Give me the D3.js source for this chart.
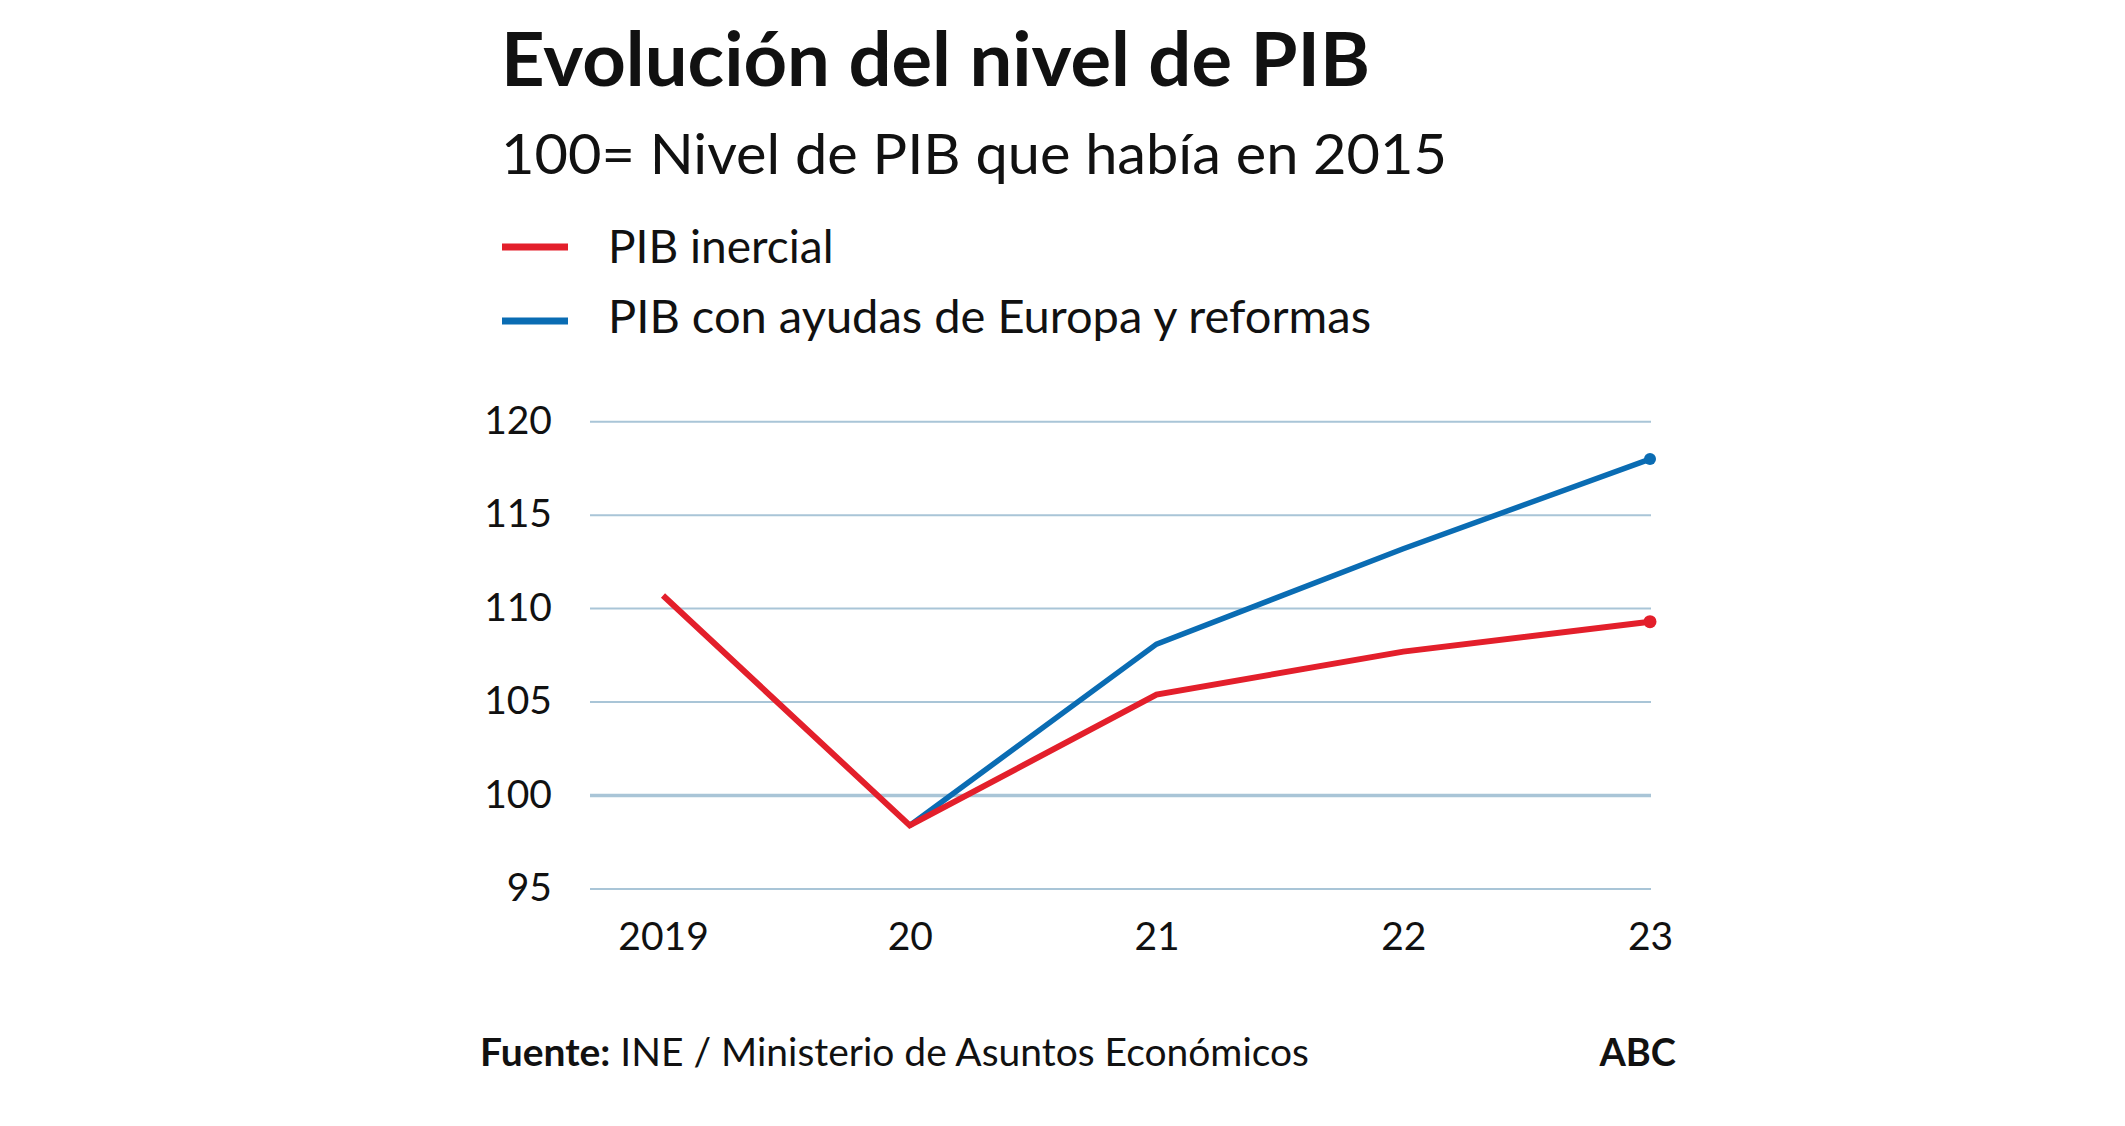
<!DOCTYPE html>
<html><head><meta charset="utf-8">
<script src="https://cdn.jsdelivr.net/npm/d3@7"></script>
<style>
html,body{margin:0;padding:0;background:#fff;}
svg{display:block;}
text{font-family:Lato,"Open Sans",sans-serif;fill:#111;}
</style></head>
<body>
<svg id="chart" width="2125" height="1126"></svg>
<script>
const years = ["2019","20","21","22","23"];
const inercial = [110.7, 98.4, 105.4, 107.7, 109.3];
const conAyudas = [null, 98.4, 108.1, 113.2, 118.0];
const yTicks = [95, 100, 105, 110, 115, 120];
const title = "Evolución del nivel de PIB";
const subtitle = "100= Nivel de PIB que había en 2015";
const legendLabels = ["PIB inercial", "PIB con ayudas de Europa y reformas"];
const sourceBold = "Fuente:";
const sourceText = " INE / Ministerio de Asuntos Económicos";
const brand = "ABC";

const RED = "#e31f2b", BLUE = "#0a6cb3", GRID = "#a9c5d7";
const svg = d3.select("#chart");

function fit(sel, w){
  const n = sel.node();
  const L = n.getComputedTextLength();
  if (Math.abs(L - w) > 2) sel.attr("textLength", w).attr("lengthAdjust","spacingAndGlyphs");
}

// Titles
fit(svg.append("text").attr("x",501).attr("y",86).attr("font-size",74).attr("font-weight",700).text(title), 869);
fit(svg.append("text").attr("x",501).attr("y",174).attr("font-size",57).text(subtitle), 946);

// Legend
const legColors = [RED, BLUE];
const legY = [247, 321], legTextY = [263, 333], legW = [225, 763];
legendLabels.forEach((l,i)=>{
  svg.append("line").attr("x1",502).attr("x2",568).attr("y1",legY[i]).attr("y2",legY[i])
    .attr("stroke",legColors[i]).attr("stroke-width",7);
  fit(svg.append("text").attr("x",608).attr("y",legTextY[i]).attr("font-size",46).text(l), legW[i]);
});

// Scales
const x = d3.scalePoint().domain(years).range([663, 1650]);
const y = d3.scaleLinear().domain([95, 120]).range([889, 421.7]);

// Grid
const g = svg.append("g");
g.selectAll("line.grid").data(yTicks).join("line")
  .attr("x1",590).attr("x2",1651)
  .attr("y1",d=>y(d)).attr("y2",d=>y(d))
  .attr("stroke",GRID).attr("stroke-width",d=>d===100?3.5:2);

// Y axis labels
const yAxis = d3.axisLeft(y).tickValues(yTicks).tickSize(0).tickPadding(0);
const ya = svg.append("g").attr("transform","translate(552,0)").call(yAxis);
ya.select(".domain").remove();
ya.selectAll("text").attr("font-size",39).attr("fill","#111").attr("dy","0.3em")
  .style("font-family","Lato, 'Open Sans', sans-serif");

// X axis labels
const xAxis = d3.axisBottom(x).tickSize(0).tickPadding(0);
const xa = svg.append("g").attr("transform","translate(0,950)").call(xAxis);
xa.select(".domain").remove();
xa.selectAll("text").attr("font-size",39).attr("fill","#111").attr("dy",0)
  .style("font-family","Lato, 'Open Sans', sans-serif");

// Lines
const line = d3.line().defined(d=>d.v!=null).x(d=>x(d.k)).y(d=>y(d.v));
const blueData = years.map((k,i)=>({k, v:conAyudas[i]}));
const redData = years.map((k,i)=>({k, v:inercial[i]}));
svg.append("path").datum(blueData).attr("d",line).attr("fill","none")
  .attr("stroke",BLUE).attr("stroke-width",5.5).attr("stroke-linejoin","miter");
svg.append("path").datum(redData).attr("d",line).attr("fill","none")
  .attr("stroke",RED).attr("stroke-width",6).attr("stroke-linejoin","miter");
svg.append("circle").attr("cx",x("23")).attr("cy",y(conAyudas[4])).attr("r",6).attr("fill",BLUE);
svg.append("circle").attr("cx",x("23")).attr("cy",y(inercial[4])).attr("r",6.5).attr("fill",RED);

// Footer
const ft = svg.append("text").attr("x",480).attr("y",1066).attr("font-size",38);
ft.append("tspan").attr("font-weight",700).text(sourceBold);
ft.append("tspan").text(sourceText);
fit(ft, 829);
svg.append("text").attr("x",1676).attr("y",1066).attr("font-size",38).attr("font-weight",700)
  .attr("text-anchor","end").text(brand);
</script>
</body></html>
